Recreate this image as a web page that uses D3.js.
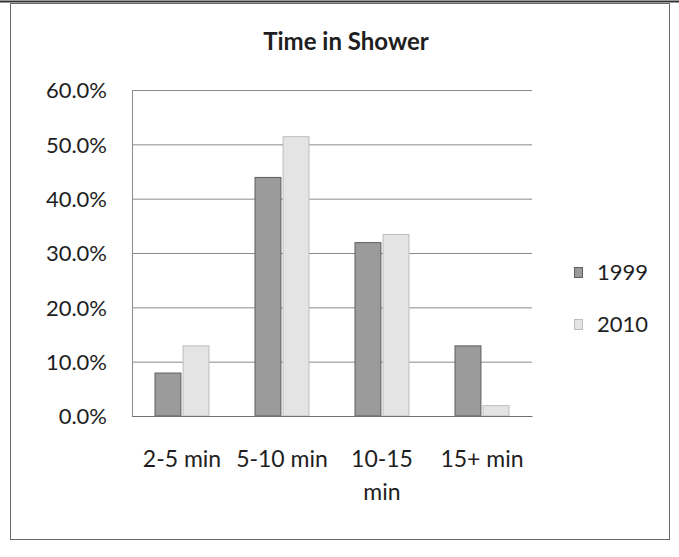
<!DOCTYPE html>
<html>
<head>
<meta charset="utf-8">
<script src="https://cdn.jsdelivr.net/npm/d3@7"></script>
<style>
  html, body { margin: 0; padding: 0; background: #fff; }
  svg { display: block; }
  text { font-family: Lato, "Open Sans", sans-serif; fill: #1e1e1e; }
</style>
</head>
<body>
<svg id="chart" width="679" height="557"></svg>
<script>
// ---- data ----
const categories = ["2-5 min", "5-10 min", "10-15 min", "15+ min"];
const categoryLabelLines = [["2-5 min"], ["5-10 min"], ["10-15", "min"], ["15+ min"]];
const seriesNames = ["1999", "2010"];
const values1999 = [0.08, 0.44, 0.32, 0.13];
const values2010 = [0.13, 0.515, 0.335, 0.02];
const yTicks = [0, 0.1, 0.2, 0.3, 0.4, 0.5, 0.6];
const titleText = "Time in Shower";

const seriesValues = { "1999": values1999, "2010": values2010 };
const fills = { "1999": "#9b9b9b", "2010": "#e4e4e4" };
const strokes = { "1999": "#5e5e5e", "2010": "#bdbdbd" };

const svg = d3.select("#chart");

// outer frame
svg.append("rect").attr("x", 10.5).attr("y", 3.5).attr("width", 659).attr("height", 536)
  .attr("fill", "none").attr("stroke", "#6a6a6a").attr("stroke-width", 1);
svg.append("line").attr("x1", 0).attr("x2", 679).attr("y1", 1.5).attr("y2", 1.5)
  .attr("stroke", "#333").attr("stroke-width", 2);

const plot = { left: 132, right: 532, top: 90, bottom: 416 };

const x0 = d3.scaleBand().domain(categories).range([plot.left, plot.right])
  .paddingInner(0.45).paddingOuter(0.225);
const x1 = d3.scaleBand().domain(seriesNames).range([0, x0.bandwidth()]).paddingInner(0.04);
const y = d3.scaleLinear().domain([0, 0.6]).range([plot.bottom, plot.top]);

// gridlines
const grid = svg.append("g").attr("transform", `translate(${plot.left},0)`)
  .call(d3.axisLeft(y).tickValues(yTicks).tickSize(-(plot.right - plot.left)).tickFormat(""));
grid.select(".domain").remove();
grid.selectAll(".tick line").attr("stroke", "#8a8a8a").attr("stroke-width", 1);

// vertical axis line
svg.append("line").attr("x1", plot.left + 0.5).attr("x2", plot.left + 0.5)
  .attr("y1", plot.top).attr("y2", plot.bottom).attr("stroke", "#8a8a8a");

// bars
const groups = svg.append("g").selectAll("g").data(categories).join("g")
  .attr("transform", d => `translate(${x0(d)},0)`);
groups.selectAll("rect")
  .data((c, i) => seriesNames.map(s => ({ s, v: seriesValues[s][i] })))
  .join("rect")
  .attr("x", d => x1(d.s) + 0.5)
  .attr("y", d => y(d.v) + 0.5)
  .attr("width", x1.bandwidth() - 1)
  .attr("height", d => y(0) - y(d.v) - 0.5)
  .attr("fill", d => fills[d.s])
  .attr("stroke", d => strokes[d.s])
  .attr("stroke-width", 1);

// bottom axis
const xAxis = svg.append("g").attr("transform", `translate(0,${plot.bottom})`)
  .call(d3.axisBottom(x0).tickSize(0).tickFormat(""));
xAxis.select(".domain").attr("stroke", "#6f6f6f");

// category labels
const catLabels = svg.append("g").selectAll("text").data(categories).join("text")
  .attr("x", d => x0(d) + x0.bandwidth() / 2)
  .attr("y", 467)
  .attr("text-anchor", "middle")
  .attr("font-size", 23);
catLabels.each(function (d, i) {
  const t = d3.select(this);
  categoryLabelLines[i].forEach((line, k) => {
    t.append("tspan").attr("x", x0(d) + x0.bandwidth() / 2).attr("dy", k === 0 ? 0 : 33).text(line);
  });
});

// y tick labels
const yAxis = svg.append("g").attr("transform", `translate(${plot.left},0)`)
  .call(d3.axisLeft(y).tickValues(yTicks).tickSize(0).tickPadding(25).tickFormat(d3.format(".1%")));
yAxis.select(".domain").remove();
yAxis.selectAll("text").attr("font-size", 22).attr("font-family", "Lato, sans-serif")
  .attr("fill", "#1e1e1e").attr("dy", "0.36em");

// title
svg.append("text").attr("x", 346).attr("y", 50).attr("text-anchor", "middle")
  .attr("font-size", 24).attr("font-weight", "bold").text(titleText);

// legend
const legend = svg.append("g").selectAll("g").data(seriesNames).join("g")
  .attr("transform", (d, i) => `translate(574,${267 + i * 52})`);
legend.append("rect").attr("x", 0.5).attr("y", 0.5).attr("width", 8).attr("height", 10)
  .attr("fill", d => fills[d]).attr("stroke", d => strokes[d]);
legend.append("text").attr("x", 23).attr("y", 5).attr("dy", "0.36em")
  .attr("font-size", 22).text(d => d);
</script>
</body>
</html>
